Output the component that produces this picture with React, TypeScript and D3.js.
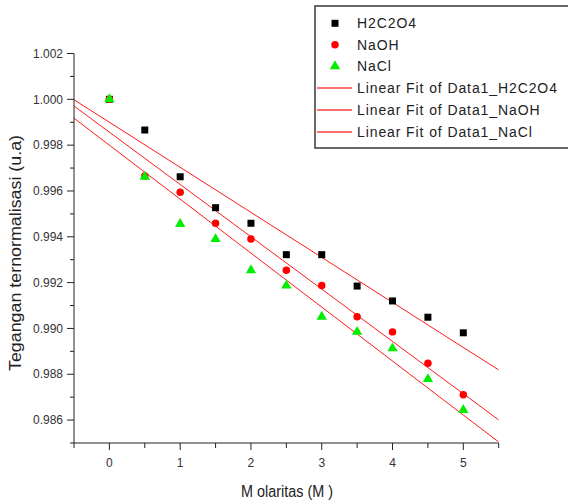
import React from "react";
import * as d3 from "d3";

const molarities = [0, 0.5, 1, 1.5, 2, 2.5, 3, 3.5, 4, 4.5, 5];
const h2c2o4 = [1.0, 0.99866, 0.99662, 0.99527, 0.99459, 0.99322, 0.99322, 0.99185, 0.9912, 0.99049, 0.98981];
const naoh = [1.0, 0.99665, 0.99594, 0.99459, 0.9939, 0.99254, 0.99187, 0.99051, 0.98985, 0.98848, 0.98711];
const nacl = [1.0, 0.99662, 0.99456, 0.9939, 0.99254, 0.99187, 0.99051, 0.98985, 0.98913, 0.98779, 0.98644];
const xTicks = [0, 1, 2, 3, 4, 5];
const xMinor = [-0.5, 0.5, 1.5, 2.5, 3.5, 4.5, 5.5];
const yTicks = [0.986, 0.988, 0.99, 0.992, 0.994, 0.996, 0.998, 1.0, 1.002];
const yMinor = [0.985, 0.987, 0.989, 0.991, 0.993, 0.995, 0.997, 0.999, 1.001];
const seriesNames = ["H2C2O4", "NaOH", "NaCl"];
const fitNames = ["Linear Fit of Data1_H2C2O4", "Linear Fit of Data1_NaOH", "Linear Fit of Data1_NaCl"];

const W = 568, H = 503;
const x = d3.scaleLinear().domain([-0.5, 5.5]).range([74, 498.7]);
const y = d3.scaleLinear().domain([0.985, 1.002]).range([443, 53.5]);

function fit(xs: number[], ys: number[]) {
  const mx = d3.mean(xs)!, my = d3.mean(ys)!;
  let sxy = 0, sxx = 0;
  xs.forEach((v, i) => { sxy += (v - mx) * (ys[i] - my); sxx += (v - mx) * (v - mx); });
  const b = sxy / sxx;
  const a = my - b * mx;
  return (t: number) => a + b * t;
}

const sqPath = d3.symbol(d3.symbolSquare, 49)()!;
const ciPath = d3.symbol(d3.symbolCircle, 44)()!;
const trPath = d3.symbol(d3.symbolTriangle, 46)()!;

export default function App() {
  const series = [
    { vals: h2c2o4, path: sqPath, fill: "#000000" },
    { vals: naoh, path: ciPath, fill: "#ff0000" },
    { vals: nacl, path: trPath, fill: "#00ee00" },
  ];
  const line = d3.line<[number, number]>().x(d => x(d[0])).y(d => y(d[1]));
  const fits = series.map(s => {
    const f = fit(molarities, s.vals);
    return line([[-0.5, f(-0.5)], [5.5, f(5.5)]])!;
  });
  const font = "'Liberation Sans', Arial, sans-serif";
  const x0 = x.range()[0], x1 = x.range()[1];
  const y0 = y.range()[0], y1 = y.range()[1];
  const legRows = [23.3, 44.8, 66.3, 88, 110, 132];
  return (
    <svg width={W} height={H} style={{ position: "absolute", left: 0, top: 0, background: "#fff" }} fontFamily={font}>
      <defs>
        <clipPath id="plot"><rect x={x0} y={y1 - 5} width={x1 - x0} height={y0 - y1 + 5} /></clipPath>
      </defs>
      <rect width={W} height={H} fill="#fff" />
      {/* fit lines */}
      <g clipPath="url(#plot)">
        {fits.map((d, i) => <path key={i} d={d} stroke="#ff1a1a" strokeWidth={1} fill="none" />)}
      </g>
      {/* points */}
      {series.map((s, si) => (
        <g key={si}>
          {s.vals.map((v, i) => (
            <path key={i} d={s.path} transform={`translate(${x(molarities[i])},${y(v)})`} fill={s.fill} />
          ))}
        </g>
      ))}
      {/* axes */}
      <g stroke="#222" strokeWidth={1} fill="none">
        <line x1={x0} x2={x0} y1={y1} y2={y0 + 0.5} />
        <line x1={x0} x2={x1} y1={y0} y2={y0} />
        {yTicks.map(t => <line key={t} x1={x0 - 7} x2={x0} y1={y(t)} y2={y(t)} />)}
        {yMinor.map(t => <line key={t} x1={x0 - 4} x2={x0} y1={y(t)} y2={y(t)} />)}
        {xTicks.map(t => <line key={t} x1={x(t)} x2={x(t)} y1={y0} y2={y0 + 7} />)}
        {xMinor.map(t => <line key={t} x1={x(t)} x2={x(t)} y1={y0} y2={y0 + 5} />)}
      </g>
      <g fontSize={12} fill="#333">
        {yTicks.map(t => (
          <text key={t} x={x0 - 11} y={y(t)} dy="0.35em" textAnchor="end">{d3.format(".3f")(t)}</text>
        ))}
        {xTicks.map(t => (
          <text key={t} x={x(t)} y={467} textAnchor="middle">{t}</text>
        ))}
      </g>
      <text x={287} y={497} fontSize={16} textAnchor="middle" fill="#222" textLength={92} lengthAdjust="spacingAndGlyphs">M olaritas (M )</text>
      <text transform={`translate(21,253) rotate(-90)`} fontSize={16.5} textAnchor="middle" fill="#222" textLength={236} lengthAdjust="spacingAndGlyphs">Tegangan ternormalisasi (u.a)</text>
      {/* legend */}
      <rect x={315} y={6} width={262} height={142} fill="#fff" stroke="#444" strokeWidth={1.6} />
      {series.map((s, i) => (
        <g key={i}>
          <path d={s.path} transform={`translate(335,${legRows[i]})`} fill={s.fill} />
          <text x={357} y={legRows[i] + 5} fontSize={14} fill="#222" letterSpacing={0.9}>{seriesNames[i]}</text>
        </g>
      ))}
      {fitNames.map((n, i) => (
        <g key={n}>
          <line x1={317} x2={352} y1={legRows[i + 3]} y2={legRows[i + 3]} stroke="#ff4040" strokeWidth={1.6} />
          <text x={357} y={legRows[i + 3] + 5} fontSize={14} fill="#222" letterSpacing={0.9}>{n}</text>
        </g>
      ))}
    </svg>
  );
}
